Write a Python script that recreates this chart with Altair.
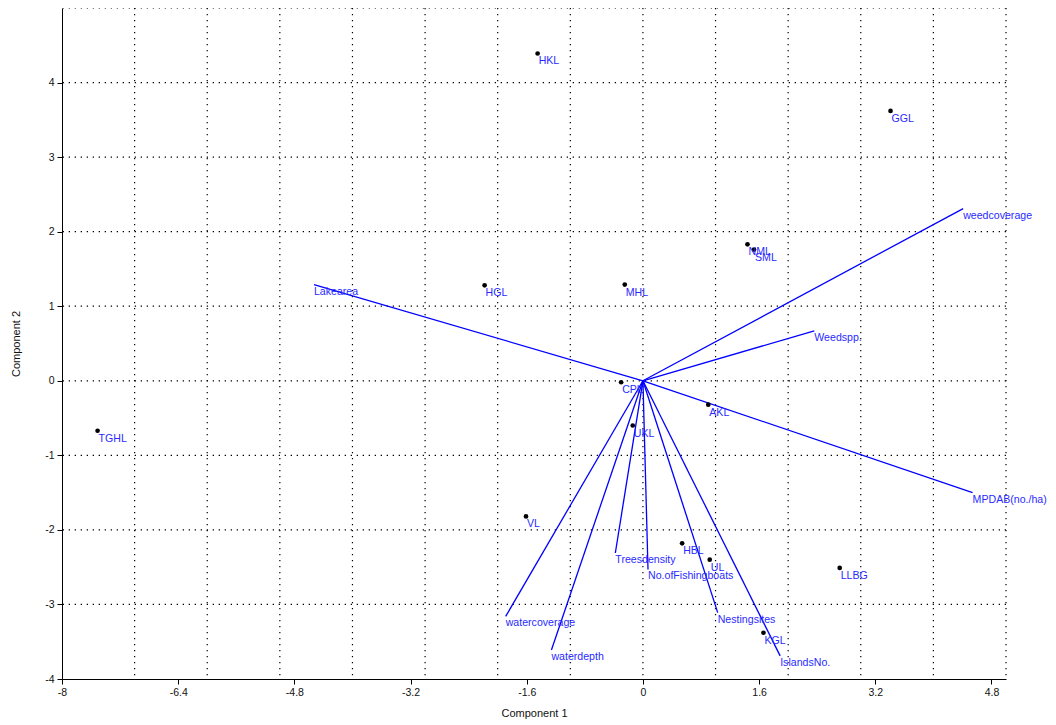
import altair as alt
import pandas as pd

# Sites (scores)
site_names = ["HKL", "GGL", "NML", "SML", "HGL", "MHL", "CPL", "AKL", "UKL",
              "TGHL", "VL", "HBL", "UL", "LLBG", "KGL"]
site_x = [-1.45, 3.41, 1.44, 1.53, -2.18, -0.25, -0.30, 0.90, -0.14,
          -7.51, -1.61, 0.54, 0.92, 2.71, 1.66]
site_y = [4.39, 3.62, 1.83, 1.76, 1.28, 1.29, -0.02, -0.32, -0.60,
          -0.67, -1.82, -2.18, -2.40, -2.51, -3.38]

# Variables (loadings vectors)
var_names = ["Lakearea", "weedcoverage", "Weedspp.", "MPDAB(no./ha)", "watercoverage",
             "waterdepth", "Treesdensity", "No.ofFishingboats", "Nestingsites", "IslandsNo."]
var_x = [-4.53, 4.41, 2.36, 4.54, -1.89, -1.26, -0.38, 0.07, 1.03, 1.89]
var_y = [1.29, 2.31, 0.67, -1.50, -3.16, -3.61, -2.31, -2.53, -3.11, -3.69]

x_ticks = [-8, -6.4, -4.8, -3.2, -1.6, 0, 1.6, 3.2, 4.8]
y_ticks = [-4, -3, -2, -1, 0, 1, 2, 3, 4]
x_grid = [-7, -6, -5, -4, -3, -2, -1, 0, 1, 2, 3, 4, 5]
y_grid = [-3, -2, -1, 0, 1, 2, 3, 4, 5]
x_domain = [-8, 5]
y_domain = [-4, 5]

sites = pd.DataFrame({"name": site_names, "x": site_x, "y": site_y})
vecs = pd.DataFrame({"name": var_names, "x": var_x, "y": var_y,
                     "x0": [0.0] * len(var_names), "y0": [0.0] * len(var_names)})
gx = pd.DataFrame({"v": x_grid})
gy = pd.DataFrame({"v": y_grid})

FONT = "Liberation Sans"
xscale = alt.Scale(domain=x_domain, nice=False, zero=False)
yscale = alt.Scale(domain=y_domain, nice=False, zero=False)
xaxis = alt.Axis(values=x_ticks, grid=False, title="Component 1", labelExpr="'' + datum.value",
                 domainColor="black", tickColor="black", tickSize=5, labelFontSize=10.5,
                 labelColor="#111", labelFont=FONT, titleFont=FONT, titleFontSize=11,
                 titleFontWeight="normal", titleColor="#111", titlePadding=10, labelFlush=False,
                 labelPadding=3)
yaxis = alt.Axis(values=y_ticks, grid=False, title="Component 2", labelExpr="'' + datum.value",
                 domainColor="black", tickColor="black", tickSize=5, labelFontSize=10.5,
                 labelColor="#111", labelFont=FONT, titleFont=FONT, titleFontSize=11,
                 titleFontWeight="normal", titleColor="#111", titlePadding=23, labelFlush=False,
                 labelPadding=3)

X = lambda f: alt.X(f, type="quantitative", scale=xscale, axis=xaxis)
Y = lambda f: alt.Y(f, type="quantitative", scale=yscale, axis=yaxis)

vgrid = alt.Chart(gx).mark_rule(color="black", strokeDash=[1.3, 4.7], strokeWidth=1.2).encode(
    x=X("v"))
hgrid = alt.Chart(gy).mark_rule(color="black", strokeDash=[1.3, 4.7], strokeWidth=1.2).encode(
    y=Y("v"))

lines = alt.Chart(vecs).mark_rule(color="#0000ff", strokeWidth=1.3).encode(
    x=X("x0"), y=Y("y0"), x2="x", y2="y")
vlabels = alt.Chart(vecs).mark_text(align="left", baseline="top", dx=0, dy=2, color="#2a2aff",
                                    fontSize=10.6, font=FONT).encode(
    x=X("x"), y=Y("y"), text="name")

dots = alt.Chart(sites).mark_circle(color="black", size=22, opacity=1).encode(x=X("x"), y=Y("y"))
slabels = alt.Chart(sites).mark_text(align="left", baseline="top", dx=1, dy=3, color="#2a2aff",
                                     fontSize=10.6, font=FONT).encode(
    x=X("x"), y=Y("y"), text="name")

chart = alt.layer(vgrid, hgrid, lines, vlabels, dots, slabels).properties(
    width=944, height=671,
    autosize=alt.AutoSizeParams(type="none"),
    padding={"left": 54, "top": 0, "right": 42, "bottom": 46},
).configure_view(stroke=None)

chart.save("out.html", embed_options={"renderer": "svg", "actions": False})
